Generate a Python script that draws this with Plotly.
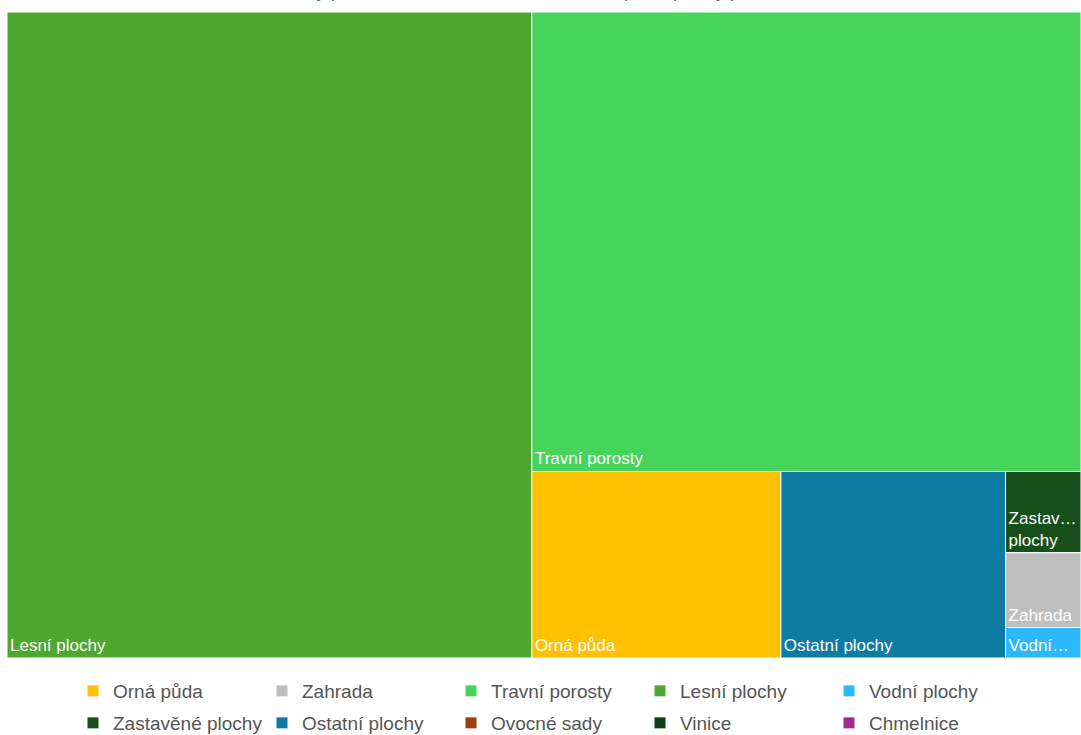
import plotly.graph_objects as go

# Data (area shares)
categories = ["Orná půda", "Zahrada", "Travní porosty", "Lesní plochy", "Vodní plochy",
              "Zastavěné plochy", "Ostatní plochy", "Ovocné sady", "Vinice", "Chmelnice"]
values = [66.7, 8.1, 362.4, 487.0, 3.3, 8.8, 60.2, 0, 0, 0]
colors = ["#FFC000", "#BFBFBF", "#47D45A", "#4EA72E", "#2BB8FF",
          "#174F1B", "#0E7BA3", "#9C3F10", "#0D3F12", "#A02B93"]
tile_text = {"Zastavěné plochy": "Zastav…<br>plochy", "Vodní plochy": "Vodní…"}
title_text = "Druhy pozemků v katastrálním území obce podle plochy pozemku"

tm_labels, tm_values, tm_colors, tm_text = [], [], [], []
for c, v, col in zip(categories, values, colors):
    if v > 0:
        tm_labels.append(c)
        tm_values.append(v)
        tm_colors.append(col)
        tm_text.append(tile_text.get(c, c))

fig = go.Figure()
fig.add_trace(go.Treemap(
    labels=tm_labels,
    parents=[""] * len(tm_labels),
    values=tm_values,
    text=tm_text,
    texttemplate="%{text}",
    textposition="bottom left",
    sort=True,
    marker=dict(colors=tm_colors, line=dict(color="white", width=1),
                pad=dict(t=0, l=0, r=0, b=0)),
    tiling=dict(packing="squarify", squarifyratio=1, pad=0),
    pathbar=dict(visible=False),
    insidetextfont=dict(family="Liberation Sans, Arial, sans-serif", size=17, color="white"),
    hoverinfo="label+value",
    domain=dict(x=[0, 1], y=[0, 1]),
))

# legend entries via dummy traces (two rows of five)
for i, (c, col) in enumerate(zip(categories, colors)):
    fig.add_trace(go.Scatter(
        x=[None], y=[None], mode="markers", name=c,
        marker=dict(symbol="square", size=11, color=col),
        legend="legend" if i < 5 else "legend2",
        showlegend=True,
    ))

legend_common = dict(
    orientation="h", xanchor="left", yanchor="middle",
    xref="container", yref="container",
    entrywidth=144, entrywidthmode="pixels",
    font=dict(family="Liberation Sans, Arial, sans-serif", size=19, color="#555555"),
    bgcolor="rgba(0,0,0,0)", itemwidth=30, traceorder="normal",
)

fig.update_layout(
    width=1081, height=735,
    margin=dict(l=7, r=0, t=12, b=77, autoexpand=False),
    paper_bgcolor="white", plot_bgcolor="white",
    title=dict(text=title_text, x=0.5, xanchor="center",
               yref="container", y=1.0, yanchor="bottom", pad=dict(b=3),
               font=dict(family="Liberation Sans, Arial, sans-serif", size=18, color="#555555")),
    xaxis=dict(visible=False), yaxis=dict(visible=False),
    legend=dict(x=73 / 1081, y=1 - 691 / 735, **legend_common),
    legend2=dict(x=73 / 1081, y=1 - 723 / 735, **legend_common),
)

fig.write_html("out.html")
